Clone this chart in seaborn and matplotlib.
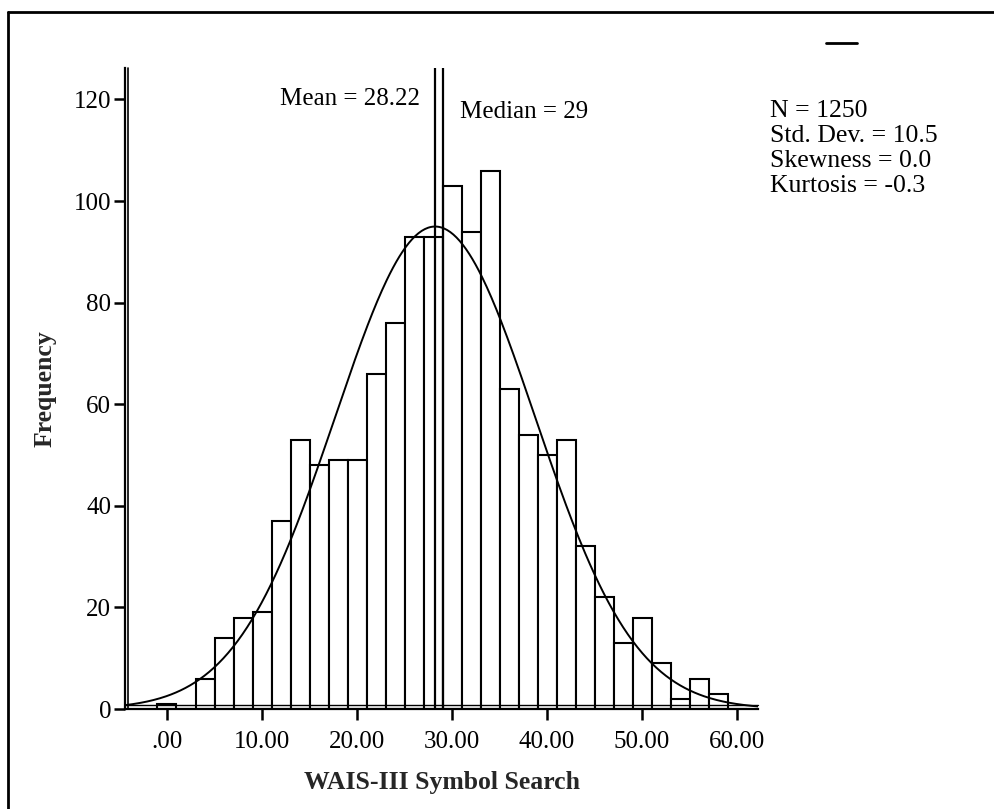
import numpy as np
import pandas as pd
import matplotlib
matplotlib.use("Agg")
import matplotlib.pyplot as plt
import seaborn as sns
from matplotlib.transforms import ScaledTranslation
from matplotlib.lines import Line2D

# ---- data ----
bin_centers = list(range(0, 62, 2))
counts = [1, 0, 6, 14, 18, 19, 37, 53, 48, 49, 49, 66, 76, 93, 93, 103,
          94, 106, 63, 54, 50, 53, 32, 22, 13, 18, 9, 2, 6, 3, 0]
bin_edges = list(range(-1, 63, 2))
x_ticks = [0, 10, 20, 30, 40, 50, 60]
x_tick_labels = [".00", "10.00", "20.00", "30.00", "40.00", "50.00", "60.00"]
y_ticks = [0, 20, 40, 60, 80, 100, 120]
MEAN = 28.22
MEDIAN = 29
SD = 10.5
N = 1250
BIN_WIDTH = 2
stats_lines = ["N = 1250", "Std. Dev. = 10.5", "Skewness = 0.0", "Kurtosis = -0.3"]
x_label = "WAIS-III Symbol Search"
y_label = "Frequency"

sns.set_theme(style="white")
plt.rcParams["font.family"] = ["Liberation Serif", "DejaVu Serif"]
FS = 18
FS_STATS = 18.5
FS_LABEL = 18.5

W, H = 995, 809
fig = plt.figure(figsize=(W / 100, H / 100), dpi=100)
fig.patch.set_facecolor("white")
ax = fig.add_axes([125 / W, 1 - 709 / H, (758 - 125) / W, (709 - 68) / H])

df = pd.DataFrame({"score": bin_centers, "count": counts})
sns.histplot(data=df, x="score", weights="count", bins=bin_edges,
             color="white", edgecolor="black", linewidth=1.5, alpha=1,
             ax=ax)

xlim = (-4.42, 62.2)
xs = np.linspace(xlim[0], xlim[1], 400)
ys = N * BIN_WIDTH / (SD * np.sqrt(2 * np.pi)) * np.exp(-0.5 * ((xs - MEAN) / SD) ** 2)
sns.lineplot(x=xs, y=ys, color="black", linewidth=1.4, ax=ax)

ax.axvline(MEAN, color="black", linewidth=1.6)
ax.axvline(MEDIAN, color="black", linewidth=1.6)

ax.set_xlim(*xlim)
ax.set_ylim(0, 126.2)
ax.set_xticks(x_ticks)
ax.set_xticklabels(x_tick_labels)
ax.set_yticks(y_ticks)
ax.tick_params(axis="both", which="major", direction="out", length=8,
               width=1.8, color="black", labelsize=FS, labelcolor="black",
               bottom=True, left=True)
ax.tick_params(axis="x", pad=8)
ax.tick_params(axis="y", pad=2)

for s in ["top", "right"]:
    ax.spines[s].set_visible(False)
for s in ["left", "bottom"]:
    ax.spines[s].set_visible(True)
    ax.spines[s].set_color("black")
    ax.spines[s].set_linewidth(1.6)

# inner frame lines (double-line axes)
off_x = ScaledTranslation(3 / 100, 0, fig.dpi_scale_trans)
off_y = ScaledTranslation(0, 4 / 100, fig.dpi_scale_trans)
ax.add_line(Line2D([0, 0], [0, 1], transform=ax.transAxes + off_x,
                   color="black", linewidth=1.2, clip_on=False))
ax.add_line(Line2D([0, 1], [0, 0], transform=ax.transAxes + off_y,
                   color="black", linewidth=1.0, clip_on=False))

ax.set_xlabel(x_label, fontsize=FS_LABEL, fontweight="bold", labelpad=13)
ax.set_ylabel(y_label, fontsize=FS_LABEL, fontweight="bold", labelpad=12)
ax.grid(False)

ax.text(26.6, 120.1, f"Mean = {MEAN:.2f}", ha="right", va="center",
        fontsize=FS, color="black")
ax.text(30.8, 117.6, f"Median = {MEDIAN}", ha="left", va="center",
        fontsize=FS, color="black")

baselines = [117, 142, 167, 192]
for line, b in zip(stats_lines, baselines):
    fig.text(770 / W, 1 - b / H, line, ha="left", va="baseline",
             fontsize=FS_STATS, color="black")

fig.add_artist(Line2D([826 / W, 857 / W], [1 - 43 / H, 1 - 43 / H],
                      color="black", linewidth=2))

# outer frame (left and top)
fig.add_artist(Line2D([8 / W, 8 / W], [0, 1 - 12 / H], color="black", linewidth=2))
fig.add_artist(Line2D([8 / W, 1], [1 - 12 / H, 1 - 12 / H], color="black", linewidth=2))

fig.savefig("out.png", dpi=100, facecolor="white")
